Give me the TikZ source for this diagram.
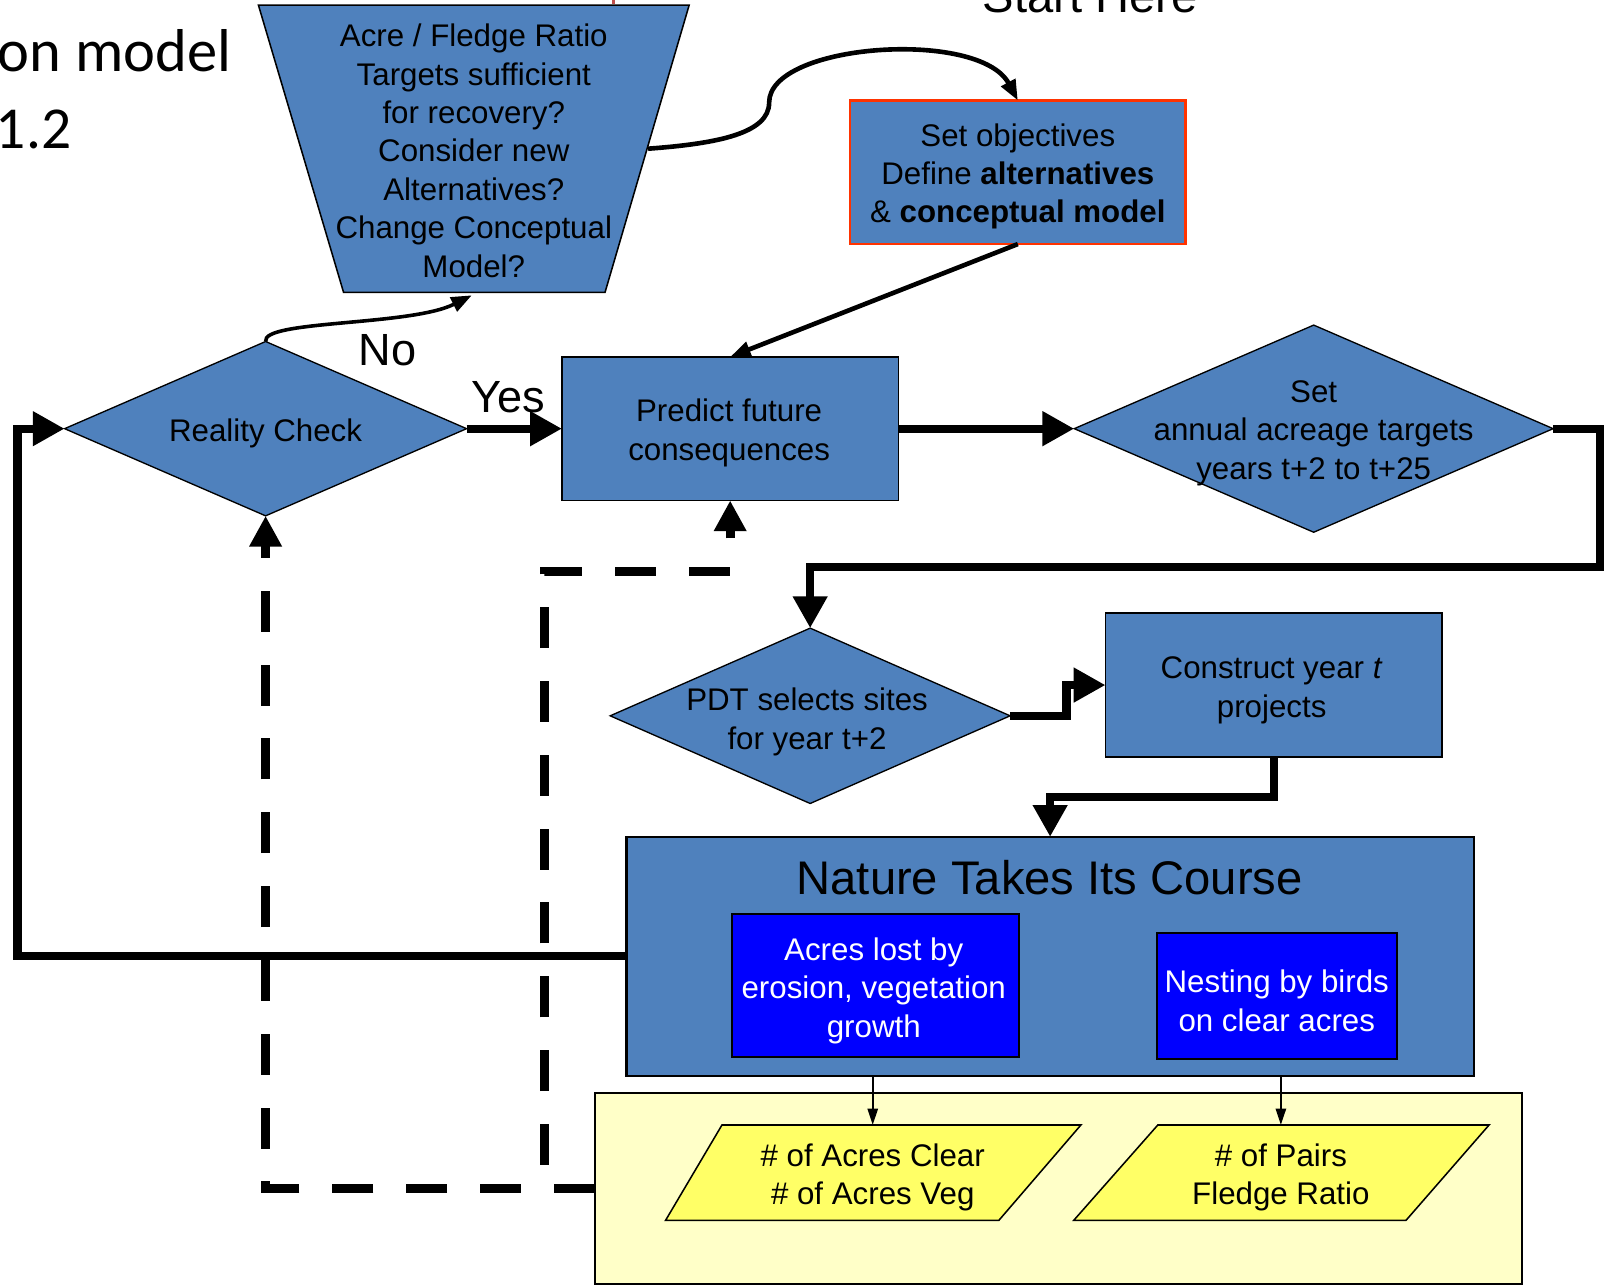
\documentclass[tikz,border=0pt]{standalone}
\usepackage{fontspec}
\setmainfont{Liberation Sans}
\newfontfamily\titlefont{Carlito}
\usetikzlibrary{arrows.meta,shapes.geometric}

\definecolor{boxblue}{HTML}{4F81BD}
\definecolor{deepblue}{HTML}{0000FF}
\definecolor{paleyellow}{HTML}{FFFFC8}
\definecolor{dataellow}{HTML}{FFFF66}
\definecolor{objred}{HTML}{FF3300}
\definecolor{tickred}{HTML}{C0504D}

\begin{document}
\begin{tikzpicture}[x=1pt,y=-1pt,
  every node/.style={inner sep=0pt, outer sep=0pt},
  txt/.style={font=\fontsize{30.5}{37.5}\selectfont, align=center},
  boxtxt/.style={txt, text depth=0pt},
  bigtxt/.style={font=\fontsize{44}{50}\selectfont},
  procbox/.style={draw=black, line width=1.6pt, fill=boxblue, txt},
  decision/.style={diamond, draw=black, line width=1.3pt, fill=boxblue, inner sep=0pt, aspect=2},
  flow/.style={line width=8pt, -{Triangle[length=31pt,width=32pt]}},
  feedback/.style={line width=9pt, dash pattern=on 40pt off 32pt, -{Triangle[length=30pt,width=30pt]}},
  link/.style={line width=4.5pt, -{Triangle[length=20pt,width=15pt]}},
  smalllink/.style={line width=2pt, -{Triangle[length=16pt,width=10pt]}},
  shapeline/.style={draw=black, line width=1.5pt}
]
\useasboundingbox (0,0) rectangle (1568,1253);
\clip (0,0) rectangle (1568,1253);

% title fragments at the left edge
\node[anchor=base west, font=\titlefont\fontsize{59}{62}\selectfont] (titleA) at (-2,70) {on model};
\node[anchor=base west, font=\titlefont\fontsize{58}{62}\selectfont] (titleB) at (-4,145) {1.2};
\node[anchor=base, font=\fontsize{46}{50}\selectfont] (start) at (1063,12) {Start Here};

% review trapezoid
\filldraw[shapeline, fill=boxblue] (252,5) -- (672,5) -- (590,285) -- (335,285) -- cycle;
\draw[tickred, line width=3pt] (598,-2) -- (598,4);
\node[txt] (review) at (462,147) {Acre / Fledge Ratio\\Targets sufficient\\for recovery?\\Consider new\\Alternatives?\\Change Conceptual\\Model?};
\coordinate (reviewR) at (632,145);
\coordinate (reviewB) at (460,288);

% process boxes
\node[procbox, draw=objred, line width=2pt, minimum width=327pt, minimum height=140pt] (setobj) at (992.5,168) {};
\node[txt] (setobjtext) at (992.5,172) {Set objectives\\Define \textbf{alternatives}\\\& \textbf{conceptual model}};
\node[procbox, minimum width=328pt, minimum height=140pt] (predict) at (712,418) {};
\node[txt] (predicttext) at (711,422) {Predict future\\consequences};
\node[procbox, minimum width=328pt, minimum height=140pt] (construct) at (1242,668) {};
\node[txt] (constructtext) at (1240,673) {Construct year \textit{t}\\projects};

% decisions
\node[decision, minimum width=392pt, minimum height=170pt] (rc) at (259,418) {};
\node[txt] (rctext) at (259,423) {Reality Check};
\node[decision, minimum width=467pt, minimum height=202pt] (setann) at (1281,418) {};
\node[txt] (setanntext) at (1281,422.5) {Set\\annual acreage targets\\years t+2 to t+25};
\node[decision, minimum width=390pt, minimum height=171pt] (pdt) at (790,698) {};
\node[txt] (pdttext) at (787,704) {PDT selects sites\\for year t+2};

% nature block
\node[draw=black, line width=2.2pt, fill=boxblue, minimum width=826pt, minimum height=233pt] (nature) at (1024,932.5) {};
\node[font=\fontsize{46}{50}\selectfont] (naturetitle) at (1023.5,856) {Nature Takes Its Course};
\node[draw=black, line width=2pt, fill=deepblue, minimum width=280pt, minimum height=140pt] (erosion) at (854,961) {};
\node[txt, text=white] (erosiontext) at (852,966) {Acres lost by\\erosion, vegetation\\growth};
\node[draw=black, line width=2pt, fill=deepblue, minimum width=234pt, minimum height=123pt] (nesting) at (1245,971.5) {};
\node[txt, text=white] (nestingtext) at (1245,976) {Nesting by birds\\on clear acres};

% monitoring block
\node[draw=black, line width=2pt, fill=paleyellow, minimum width=904pt, minimum height=186pt] (monitor) at (1032,1159) {};
\filldraw[shapeline, fill=dataellow] (704,1097) -- (1054,1097) -- (974,1190) -- (649,1190) -- cycle;
\filldraw[shapeline, fill=dataellow] (1129,1097) -- (1452,1097) -- (1371,1190) -- (1047,1190) -- cycle;
\node[txt] (acres) at (851,1148) {\# of Acres Clear\\\# of Acres Veg};
\node[txt] (pairs) at (1249,1148) {\# of Pairs\\Fledge Ratio};
\coordinate (acresT) at (851,1097);
\coordinate (pairsT) at (1249,1097);

% labels
\node[bigtxt] (nolabel) at (378,341) {No};
\node[bigtxt] (yeslabel) at (496,387) {Yes};

% main flow
\draw[flow] (rc.east) -- (predict.west);
\draw[flow] (predict.east) -- (setann.west);
\draw[flow] (setann.east) -- (1560,418) -- (1560,553) -| (pdt.north);
\draw[flow] (pdt.east) -- (1040,698) |- (construct.west);
\draw[flow] (construct.south) -- (1242,777) -| (nature.north);
\draw[flow] (nature.west) -- (17,932.5) |- (rc.west);

% thin connectors
\draw[link] (setobj.south) -- (predict.north);
\draw[link] (reviewR) .. controls (700,140) and (750,130) .. (750,100)
  .. controls (750,42) and (955,28) .. (setobj.north);
\draw[link, line width=3.5pt] (rc.north) .. controls (255,312) and (400,318) .. (reviewB);
\draw[smalllink] (nature.south -| acresT) -- (acresT);
\draw[smalllink] (nature.south -| pairsT) -- (pairsT);

% feedback from monitoring
\draw[feedback] (monitor.west) -- (259,1159) -- (rc.south);
\draw[feedback] (monitor.west) -- (531,1159) -- (531,557) -| (predict.south);
\end{tikzpicture}
\end{document}
